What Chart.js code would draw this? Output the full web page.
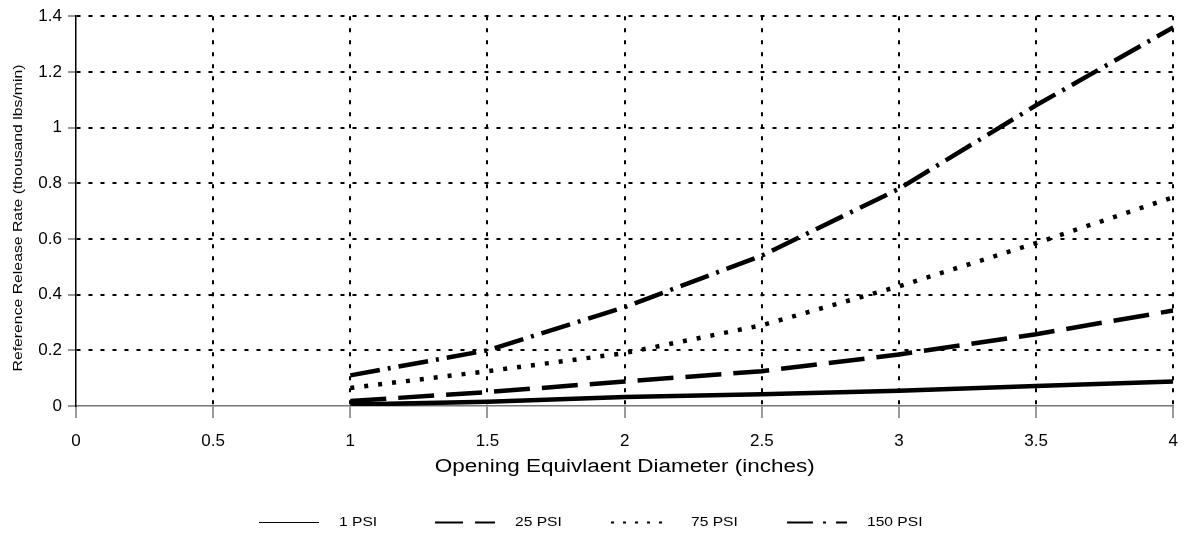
<!DOCTYPE html>
<html lang="en">
  <head>
    <meta charset="UTF-8" />
    <title>Reference Release Rate</title>
    <style>
      body { margin: 0; background: #fff; }
      #wrap { width: 1191px; height: 533px; }
    </style>
  </head>
  <body>
    <div id="wrap">
      <canvas id="myChart" width="1191" height="533"></canvas>
    </div>

    <script src="https://cdn.jsdelivr.net/npm/chart.js"></script>
    <script>
      // diameters (inches) and release rates (thousand lbs/min)
      const diameters = [1, 1.5, 2, 2.5, 3, 3.5, 4];
      const psi1 = [0.005, 0.015, 0.032, 0.042, 0.055, 0.072, 0.088];
      const psi25 = [0.018, 0.05, 0.088, 0.125, 0.185, 0.258, 0.343];
      const psi75 = [0.065, 0.125, 0.19, 0.29, 0.43, 0.585, 0.75];
      const psi150 = [0.11, 0.2, 0.355, 0.54, 0.78, 1.08, 1.36];
      const seriesLabels = ["1 PSI", "25 PSI", "75 PSI", "150 PSI"];

      const xTitle = "Opening Equivlaent Diameter (inches)";
      const yTitle = "Reference Release Rate (thousand lbs/min)";

      const lineDash = [[], [36, 12], [4, 10], [30, 8, 3, 8]];
      const legendDash = [[], [28, 12], [3, 9], [26, 10, 3, 10]];

      const toPoints = (ys) => ys.map((y, i) => ({ x: diameters[i], y: y }));

      const datasets = [psi1, psi25, psi75, psi150].map((ys, i) => ({
        label: seriesLabels[i],
        data: toPoints(ys),
        borderColor: "#000",
        borderWidth: 4.5,
        borderDash: lineDash[i],
        pointRadius: 0,
        tension: 0,
        fill: false,
      }));

      // the original's text is stretched sideways, so scale it to the width it had
      const fitText = (c, text, x, y, w) => {
        const m = c.measureText(text).width;
        c.save();
        c.translate(x, y);
        c.scale(w / m, 1);
        c.fillText(text, 0, 0);
        c.restore();
      };

      const extras = {
        id: "extras",
        afterDraw(chart) {
          const c = chart.ctx;
          const area = chart.chartArea;
          c.save();
          c.fillStyle = "#000";
          c.textBaseline = "middle";
          c.textAlign = "center";

          c.font = "18px 'Liberation Sans', Arial, sans-serif";
          fitText(c, xTitle, (area.left + area.right) / 2, 467, 380);

          c.save();
          c.translate(19, 218);
          c.rotate(-Math.PI / 2);
          c.font = "12px 'Liberation Sans', Arial, sans-serif";
          fitText(c, yTitle, 0, 0, 307);
          c.restore();

          // legend, centred on the canvas
          c.font = "13px 'Liberation Sans', Arial, sans-serif";
          c.textAlign = "left";
          const y = 522.5;
          seriesLabels.forEach((lbl, i) => {
            const x0 = 259 + i * 176;
            c.beginPath();
            c.setLineDash(legendDash[i]);
            c.lineWidth = i === 0 ? 1 : 2;
            c.strokeStyle = "#000";
            c.moveTo(x0, y);
            c.lineTo(x0 + 60, y);
            c.stroke();
            const w = c.measureText(lbl).width * 1.2;
            c.textAlign = "center";
            fitText(c, lbl, x0 + 80 + w / 2, y, w);
            c.textAlign = "left";
          });
          c.restore();
        },
      };

      const gridColor = (ctx) => (ctx.index === 0 ? "rgba(0,0,0,0)" : "#000");
      const tickFont = { family: "'Liberation Sans', Arial", size: 17 };

      const ctx = document.getElementById("myChart");
      const myChart = new Chart(ctx, {
        type: "line",
        data: { datasets: datasets },
        options: {
          responsive: false,
          animation: false,
          layout: { padding: { top: 16, right: 7, left: 0, bottom: 0 } },
          plugins: {
            legend: { display: false },
            tooltip: { enabled: false },
          },
          scales: {
            x: {
              type: "linear",
              min: 0,
              max: 4,
              afterFit: (s) => { s.height = 127; },
              ticks: {
                stepSize: 0.5,
                color: "#000",
                padding: 13,
                font: tickFont,
                callback: (v) => String(+v.toFixed(1)),
              },
              grid: {
                color: gridColor,
                lineWidth: 2,
                tickColor: "#777",
                tickWidth: 1.5,
                tickLength: 12,
              },
              border: { color: "#777", width: 1.5, dash: [4, 8] },
            },
            y: {
              min: 0,
              max: 1.4,
              afterFit: (s) => { s.width = 76; },
              ticks: {
                stepSize: 0.2,
                color: "#000",
                padding: 6,
                font: tickFont,
                callback: (v) => String(+v.toFixed(1)),
              },
              grid: {
                color: gridColor,
                lineWidth: 2,
                tickColor: "#777",
                tickWidth: 1.5,
                tickLength: 8,
              },
              border: { color: "#000", width: 1.5, dash: [4, 8] },
            },
          },
        },
        plugins: [extras],
      });
    </script>
  </body>
</html>
